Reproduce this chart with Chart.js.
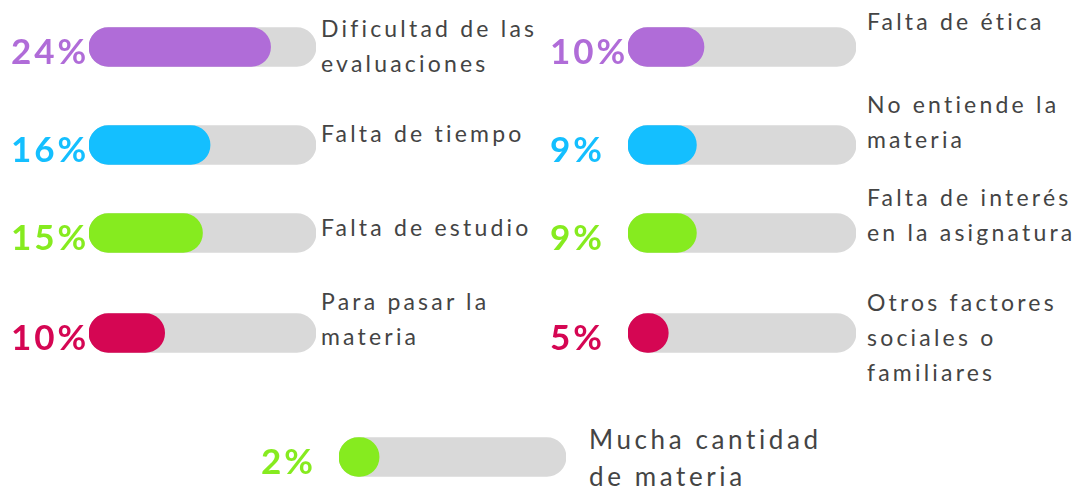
<!DOCTYPE html>
<html lang="es">
<head>
<meta charset="UTF-8">
<title>Motivos</title>
<script src="https://cdn.jsdelivr.net/npm/chart.js"></script>
<style>
  html, body { margin: 0; padding: 0; background: #fff; }
  body { width: 1080px; height: 489px; position: relative; overflow: hidden; font-family: Lato, sans-serif; }
  canvas.bar { position: absolute; }
  .label { position: absolute; color: #444; font-size: 23px; line-height: 35px; letter-spacing: 3.2px; white-space: nowrap; }
  .label.big { font-size: 26px; line-height: 37px; letter-spacing: 3.6px; }
</style>
</head>
<body>
<script>
// data
const categories = [
    ['Dificultad de las', 'evaluaciones'],
    ['Falta de tiempo'],
    ['Falta de estudio'],
    ['Para pasar la', 'materia'],
    ['Falta de ética'],
    ['No entiende la', 'materia'],
    ['Falta de interés', 'en la asignatura'],
    ['Otros factores', 'sociales o', 'familiares'],
    ['Mucha cantidad', 'de materia']
];
const percents = [24, 16, 15, 10, 10, 9, 9, 5, 2];
const scaleMax = 30;

// styles
const colors = ['#b06cd8', '#14bfff', '#86eb1f', '#d50653',
                '#b06cd8', '#14bfff', '#86eb1f', '#d50653', '#86eb1f'];
const trackColor = '#d9d9d9';
const AXIS_W = 78;      // room for the % label left of each track
const BOX_H = 50;
const BAR_H = 39;
const PILL_MIN = 5.3;   // tiny values still show as a round dot

// where each bar sits: track left, track center y, track width, label x, label baseline
const slots = [
    { x: 89,  y: 46.5,  w: 227, tx: 321, ty: 37.5 },
    { x: 89,  y: 144.5, w: 227, tx: 321, ty: 143 },
    { x: 89,  y: 232.5, w: 227, tx: 321, ty: 236.5 },
    { x: 89,  y: 332.5, w: 227, tx: 321, ty: 311 },
    { x: 628, y: 46.5,  w: 228, tx: 867, ty: 31 },
    { x: 628, y: 144.5, w: 228, tx: 867, ty: 113.5 },
    { x: 628, y: 232.5, w: 228, tx: 867, ty: 207 },
    { x: 628, y: 332.5, w: 228, tx: 867, ty: 311.5 },
    { x: 339, y: 456.5, w: 227, tx: 589, ty: 450 }
];

const spacing = {
    id: 'spacing',
    beforeDraw(chart) { chart.ctx.letterSpacing = '3px'; }
};

function drawItem(i) {
    const s = slots[i];
    const cv = document.createElement('canvas');
    cv.className = 'bar';
    cv.width = AXIS_W + s.w;
    cv.height = BOX_H;
    cv.style.left = (s.x - AXIS_W) + 'px';
    cv.style.top = (s.y - BOX_H / 2) + 'px';
    document.body.appendChild(cv);

    const barStyle = { barThickness: BAR_H, borderRadius: 20, borderSkipped: false, stack: 'row' };
    new Chart(cv, {
        type: 'bar',
        data: {
            labels: [percents[i] + '%'],
            datasets: [
                // same stack name -> both bars share one slot, x is not stacked so they overlap
                Object.assign({ data: [[0, Math.max(percents[i], PILL_MIN)]], backgroundColor: colors[i] }, barStyle),
                Object.assign({ data: [scaleMax], backgroundColor: trackColor }, barStyle)
            ]
        },
        options: {
            indexAxis: 'y',
            responsive: false,
            animation: false,
            layout: { padding: 0, autoPadding: false },
            events: [],
            plugins: { legend: { display: false }, tooltip: { enabled: false } },
            scales: {
                x: { display: false, stacked: false, min: 0, max: scaleMax },
                y: {
                    grid: { display: false },
                    border: { display: false },
                    afterFit: sc => {
                        sc.width = AXIS_W;
                        sc.paddingTop = 0;
                        sc.paddingBottom = 0;
                    },
                    ticks: {
                        crossAlign: 'far',
                        padding: 0,
                        labelOffset: 6,
                        color: colors[i],
                        font: { family: 'Lato', weight: 'bold', size: 35 }
                    }
                }
            }
        },
        plugins: [spacing]
    });

    const big = i === 8;
    const lbl = document.createElement('div');
    lbl.className = big ? 'label big' : 'label';
    lbl.style.left = s.tx + 'px';
    lbl.style.top = (s.ty - (big ? 29 : 27)) + 'px';
    lbl.innerHTML = categories[i].join('<br>');
    document.body.appendChild(lbl);
}

for (let i = 0; i < percents.length; i++) drawItem(i);
</script>
</body>
</html>
